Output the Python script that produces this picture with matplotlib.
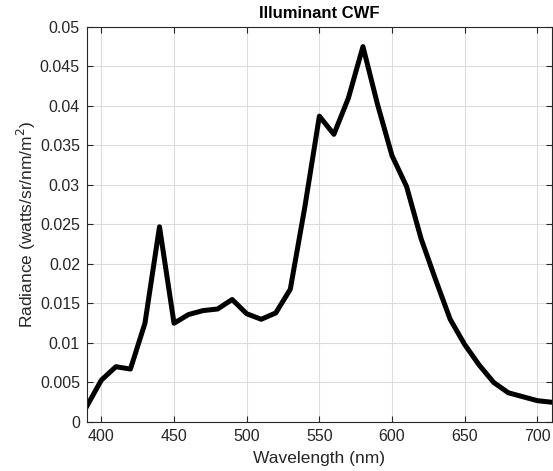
import matplotlib
matplotlib.use('Agg')
import matplotlib.pyplot as plt

# spectral radiance of illuminant CWF, sampled every 10 nm
WAVELENGTH = list(range(390, 720, 10))
RADIANCE = [
    0.0020, 0.0053, 0.0070, 0.0067, 0.0125, 0.0247, 0.0125, 0.0136,
    0.0141, 0.0143, 0.0155, 0.0137, 0.0130, 0.0138, 0.0168, 0.0272,
    0.0387, 0.0364, 0.0410, 0.0475, 0.0402, 0.0337, 0.0298, 0.0232,
    0.0180, 0.0130, 0.0098, 0.0072, 0.0050, 0.0037, 0.0032, 0.0027,
    0.0025,
]
YTICKS = [0, 0.005, 0.01, 0.015, 0.02, 0.025, 0.03, 0.035, 0.04, 0.045, 0.05]
YTICK_LABELS = ['0', '0.005', '0.01', '0.015', '0.02', '0.025', '0.03',
                '0.035', '0.04', '0.045', '0.05']
XTICKS = [400, 450, 500, 550, 600, 650, 700]

plt.rcParams['font.family'] = ['Liberation Sans', 'DejaVu Sans']

fig = plt.figure(figsize=(5.53, 4.71), dpi=100)
ax = fig.add_axes([0.157, 0.104, 0.841, 0.839])
ax.plot(WAVELENGTH, RADIANCE, color='black', linewidth=3.6)

ax.set_xlim(390, 710)
ax.set_ylim(0, 0.05)
ax.set_xticks(XTICKS)
ax.set_yticks(YTICKS)
ax.set_yticklabels(YTICK_LABELS)
ax.tick_params(direction='in', top=True, right=True, labelsize=11.5,
               color='#262626', length=4, pad=5, labelcolor='#262626')
ax.grid(True, color='#dcdcdc', linewidth=0.8)
ax.set_axisbelow(True)
for sp in ax.spines.values():
    sp.set_color('#262626')
    sp.set_linewidth(0.8)

ax.set_xlabel('Wavelength (nm)', fontsize=12.5, labelpad=5, color='#262626')
ax.set_ylabel('Radiance (watts/sr/nm/m$^2$)', fontsize=12.5, labelpad=1,
              color='#262626')
ax.set_title('Illuminant CWF', fontsize=12, fontweight='bold', pad=6.5)

fig.savefig('out.png', dpi=100)
